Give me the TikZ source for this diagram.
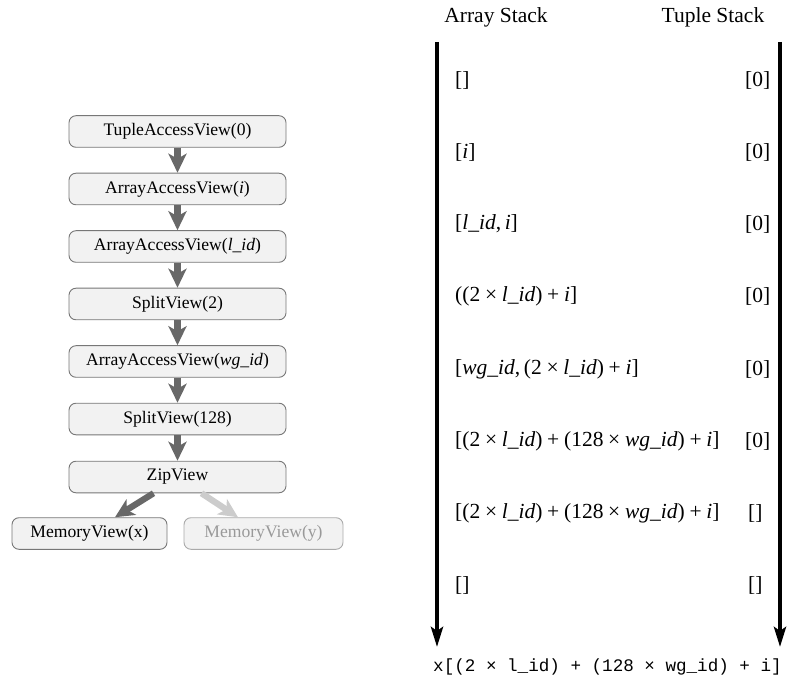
\documentclass[tikz,border=0pt]{standalone}
\usepackage{fontspec}
\setmainfont{Liberation Serif}
\setmonofont{Liberation Mono}
\usetikzlibrary{arrows.meta,positioning,calc}

\definecolor{boxfill}{HTML}{F2F2F2}
\definecolor{boxline}{HTML}{777777}
\definecolor{flowgray}{HTML}{686868}
\definecolor{fadegray}{HTML}{CCCCCC}
\definecolor{fadetext}{HTML}{999999}
\definecolor{fadeline}{HTML}{AAAAAA}

% italic variables and binary operators with math-like spacing
\newcommand\vv[1]{\textit{#1}}
\newcommand\bop[1]{\hspace{0.22em}#1\hspace{0.22em}}

\begin{document}
\begin{tikzpicture}[x=1pt,y=-1pt,
  viewbox/.style={draw=boxline, line width=0.9pt, fill=boxfill, rounded corners=7pt,
    minimum width=217pt, minimum height=31.6pt, inner sep=0pt,
    font=\fontsize{17.6}{20}\selectfont},
  membox/.style={viewbox, minimum width=#1},
  fadebox/.style={membox=#1, draw=fadeline, text=fadetext},
  flow/.style={draw=flowgray, line width=6.3pt,
    -{Stealth[length=19pt,width=18pt,inset=5pt]}},
  fadeflow/.style={flow, draw=fadegray},
  stackarrow/.style={draw=black, line width=4.3pt,
    -{Stealth[length=20pt,width=12pt,inset=4pt]}},
  head/.style={font=\fontsize{21.5}{24}\selectfont},
  entry/.style={anchor=west, inner sep=0pt, font=\fontsize{21.5}{24}\selectfont},
]
\useasboundingbox (0,0) rectangle (788,679);

% view chain
\node[viewbox] (tav) at (177.5,131.5) {TupleAccessView(0)};
\node[viewbox] (aai) at (177.5,189)   {ArrayAccessView(\vv{i})};
\node[viewbox] (aal) at (177.5,246.5) {ArrayAccessView(\vv{l\_id})};
\node[viewbox] (sp2) at (177.5,304)   {SplitView(2)};
\node[viewbox] (aaw) at (177.5,361.5) {ArrayAccessView(\vv{wg\_id})};
\node[viewbox] (sp128) at (177.5,419) {SplitView(128)};
\node[viewbox] (zip) at (177.5,477)   {ZipView};
\node[membox=155pt] (mx) at (89.5,533.5) {MemoryView(x)};
\node[fadebox=159pt] (my) at (263.5,533.5) {MemoryView(y)};

\draw[flow] (tav) -- (aai);
\draw[flow] (aai) -- (aal);
\draw[flow] (aal) -- (sp2);
\draw[flow] (sp2) -- (aaw);
\draw[flow] (aaw) -- (sp128);
\draw[flow] (sp128) -- (zip);
\draw[fadeflow] ([xshift=24pt]zip.south) -- ([xshift=-25.5pt]my.north);
\draw[flow] ([xshift=-24pt]zip.south) -- ([xshift=25.5pt]mx.north);

% stacks
\node[head] (ah) at (496,17) {Array Stack};
\node[head] (th) at (713,17) {Tuple Stack};

\coordinate (as0) at (437,42);
\coordinate (as1) at (437,647);
\coordinate (ts0) at (780,42);
\coordinate (ts1) at (780,647);
\draw[stackarrow] (as0) -- (as1);
\draw[stackarrow] (ts0) -- (ts1);

\node[entry] (a1) at (455,80)  {[]};
\node[entry] (a2) at (455,152) {[\vv{i}]};
\node[entry] (a3) at (455,224) {[\vv{l\_id},\,\vv{i}]};
\node[entry] (a4) at (455,296) {((2\bop{×}\vv{l\_id})\bop{+}\vv{i}]};
\node[entry] (a5) at (455,369) {[\vv{wg\_id},\,(2\bop{×}\vv{l\_id})\bop{+}\vv{i}]};
\node[entry] (a6) at (455,441) {[(2\bop{×}\vv{l\_id})\bop{+}(128\bop{×}\vv{wg\_id})\bop{+}\vv{i}]};
\node[entry] (a7) at (455,513) {[(2\bop{×}\vv{l\_id})\bop{+}(128\bop{×}\vv{wg\_id})\bop{+}\vv{i}]};
\node[entry] (a8) at (455,585) {[]};

\node[entry] (t1) at (745,80)  {[0]};
\node[entry] (t2) at (745,152) {[0]};
\node[entry] (t3) at (745,224) {[0]};
\node[entry] (t4) at (745,296) {[0]};
\node[entry] (t5) at (745,369) {[0]};
\node[entry] (t6) at (745,441) {[0]};
\node[entry] (t7) at (748,513) {[]};
\node[entry] (t8) at (748,585) {[]};

\node[font=\ttfamily\fontsize{17.6}{20}\selectfont, inner sep=0pt] (res) at (607.5,667)
  {x[(2 × l\_id) + (128 × wg\_id) + i]};
\end{tikzpicture}
\end{document}
